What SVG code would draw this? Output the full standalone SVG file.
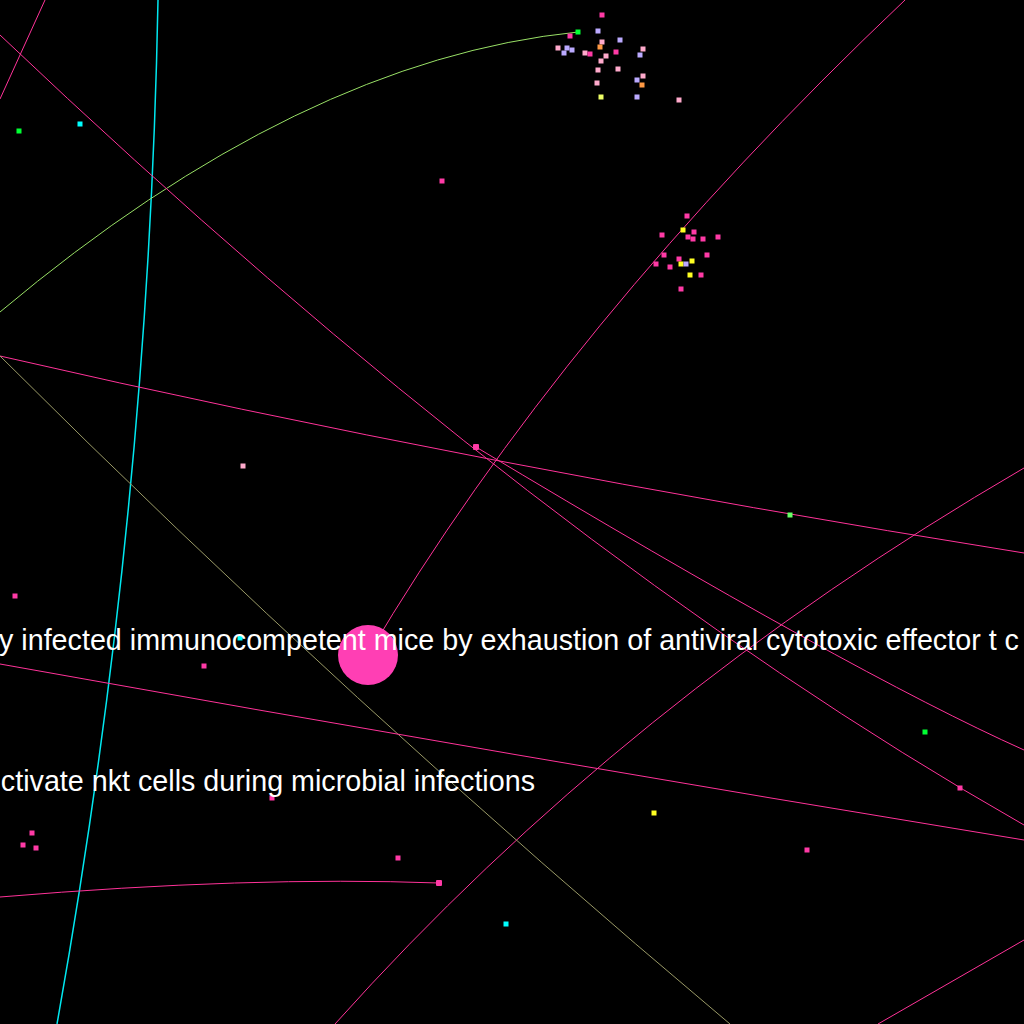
<svg xmlns="http://www.w3.org/2000/svg" width="1024" height="1024" viewBox="0 0 1024 1024">
<style>
.e{fill:none;stroke-width:1}
.pk{stroke:#ff3399}
.cy{stroke:#00e8f0;stroke-width:1.5}
.gr{stroke:#99e066}
.ol{stroke:#999966}
.m rect{fill:#ff3aa6}
.lp rect{fill:#ffaacc}
.lv rect{fill:#bbaaff}
.or rect{fill:#ff9944}
.ye rect{fill:#ffff22}
.yg rect{fill:#eeff66}
.g rect{fill:#00ff33}
.lg rect{fill:#66ff66}
.c rect{fill:#00ffff}
.lbl{font-family:"Liberation Sans",Arial,sans-serif;font-size:28.7px;fill:#ffffff}
</style>
<rect width="1024" height="1024" fill="#000000"/>
<g id="connectors">
<path class="e cy" d="M158,0 Q148.5,512 57,1024"/>
<path class="e gr" d="M0,312 Q300,60 578,32"/>
<path class="e pk" d="M0,35 Q543,551 1024,825"/>
<path class="e pk" d="M476,447 Q852,673 1024,750"/>
<path class="e pk" d="M0,356 Q474,465 1024,553"/>
<path class="e pk" d="M368,655 Q564,323 905,0"/>
<path class="e pk" d="M335,1024 Q625,700 1024,468"/>
<path class="e pk" d="M0,897 Q250,876 439,883"/>
<path class="e pk" d="M878,1024 L1024,940"/>
<path class="e ol" d="M0,356 Q350,705 730,1024"/>
<path class="e pk" d="M45,0 L0,99"/>
<path class="e pk" d="M0,664 Q512,756 1024,840"/>
</g>
<g id="nodes">
<g id="big"><circle cx="368" cy="655" r="30" fill="#ff3fb4"/></g>
<g id="n1" class="m"><rect x="599.5" y="12.5" width="5" height="5"/></g>
<g id="n2" class="g"><rect x="575.5" y="29.5" width="5" height="5"/></g>
<g id="n3" class="m"><rect x="567.5" y="33.5" width="5" height="5"/></g>
<g id="n4" class="lv"><rect x="595.5" y="28.5" width="5" height="5"/></g>
<g id="n5" class="lv"><rect x="617.5" y="37.5" width="5" height="5"/></g>
<g id="n6" class="lp"><rect x="599.5" y="39.5" width="5" height="5"/></g>
<g id="n7" class="lp"><rect x="555.5" y="45.5" width="5" height="5"/></g>
<g id="n8" class="lv"><rect x="564.5" y="45.5" width="5" height="5"/></g>
<g id="n9" class="lv"><rect x="561.5" y="50.5" width="5" height="5"/></g>
<g id="n10" class="lv"><rect x="569.5" y="47.5" width="5" height="5"/></g>
<g id="n11" class="or"><rect x="597.5" y="44.5" width="5" height="5"/></g>
<g id="n12" class="m"><rect x="613.5" y="49.5" width="5" height="5"/></g>
<g id="n13" class="lp"><rect x="640.5" y="46.5" width="5" height="5"/></g>
<g id="n14" class="lp"><rect x="582.5" y="50.5" width="5" height="5"/></g>
<g id="n15" class="m"><rect x="587.5" y="51.5" width="5" height="5"/></g>
<g id="n16" class="lp"><rect x="603.5" y="53.5" width="5" height="5"/></g>
<g id="n17" class="lv"><rect x="637.5" y="52.5" width="5" height="5"/></g>
<g id="n18" class="lp"><rect x="598.5" y="58.5" width="5" height="5"/></g>
<g id="n19" class="lp"><rect x="595.5" y="67.5" width="5" height="5"/></g>
<g id="n20" class="lp"><rect x="615.5" y="66.5" width="5" height="5"/></g>
<g id="n21" class="lp"><rect x="640.5" y="73.5" width="5" height="5"/></g>
<g id="n22" class="lv"><rect x="634.5" y="77.5" width="5" height="5"/></g>
<g id="n23" class="or"><rect x="639.5" y="82.5" width="5" height="5"/></g>
<g id="n24" class="lp"><rect x="594.5" y="80.5" width="5" height="5"/></g>
<g id="n25" class="yg"><rect x="598.5" y="94.5" width="5" height="5"/></g>
<g id="n26" class="lv"><rect x="634.5" y="94.5" width="5" height="5"/></g>
<g id="n27" class="lp"><rect x="676.5" y="97.5" width="5" height="5"/></g>
<g id="n28" class="m"><rect x="684.5" y="213.5" width="5" height="5"/></g>
<g id="n29" class="ye"><rect x="680.5" y="227.5" width="5" height="5"/></g>
<g id="n30" class="m"><rect x="659.5" y="232.5" width="5" height="5"/></g>
<g id="n31" class="m"><rect x="691.5" y="229.5" width="5" height="5"/></g>
<g id="n32" class="m"><rect x="685.5" y="234.5" width="5" height="5"/></g>
<g id="n33" class="m"><rect x="690.5" y="236.5" width="5" height="5"/></g>
<g id="n34" class="m"><rect x="700.5" y="236.5" width="5" height="5"/></g>
<g id="n35" class="m"><rect x="715.5" y="234.5" width="5" height="5"/></g>
<g id="n36" class="m"><rect x="661.5" y="252.5" width="5" height="5"/></g>
<g id="n37" class="m"><rect x="704.5" y="252.5" width="5" height="5"/></g>
<g id="n38" class="m"><rect x="676.5" y="256.5" width="5" height="5"/></g>
<g id="n39" class="m"><rect x="653.5" y="261.5" width="5" height="5"/></g>
<g id="n40" class="m"><rect x="667.5" y="264.5" width="5" height="5"/></g>
<g id="n41" class="ye"><rect x="678.5" y="261.5" width="5" height="5"/></g>
<g id="n42" class="lv"><rect x="683.5" y="261.5" width="5" height="5"/></g>
<g id="n43" class="ye"><rect x="689.5" y="258.5" width="5" height="5"/></g>
<g id="n44" class="ye"><rect x="687.5" y="272.5" width="5" height="5"/></g>
<g id="n45" class="m"><rect x="698.5" y="272.5" width="5" height="5"/></g>
<g id="n46" class="m"><rect x="678.5" y="286.5" width="5" height="5"/></g>
<g id="n47" class="g"><rect x="16.5" y="128.5" width="5" height="5"/></g>
<g id="n48" class="c"><rect x="77.5" y="121.5" width="5" height="5"/></g>
<g id="n49" class="m"><rect x="439.5" y="178.5" width="5" height="5"/></g>
<g id="n50" class="m"><rect x="473" y="444" width="6" height="6" rx="1"/></g>
<g id="n51" class="lp"><rect x="240.5" y="463.5" width="5" height="5"/></g>
<g id="n52" class="lg"><rect x="787.5" y="512.5" width="5" height="5"/></g>
<g id="n53" class="m"><rect x="12.5" y="593.5" width="5" height="5"/></g>
<g id="n54" class="m"><rect x="201.5" y="663.5" width="5" height="5"/></g>
<g id="n55" class="c"><rect x="237.5" y="635.5" width="5" height="5"/></g>
<g id="n56" class="g"><rect x="922.5" y="729.5" width="5" height="5"/></g>
<g id="n57" class="m"><rect x="957.5" y="785.5" width="5" height="5"/></g>
<g id="n58" class="m"><rect x="269.5" y="795.5" width="5" height="5"/></g>
<g id="n59" class="ye"><rect x="651.5" y="810.5" width="5" height="5"/></g>
<g id="n60" class="m"><rect x="804.5" y="847.5" width="5" height="5"/></g>
<g id="n61" class="m"><rect x="29.5" y="830.5" width="5" height="5"/></g>
<g id="n62" class="m"><rect x="20.5" y="842.5" width="5" height="5"/></g>
<g id="n63" class="m"><rect x="33.5" y="845.5" width="5" height="5"/></g>
<g id="n64" class="m"><rect x="395.5" y="855.5" width="5" height="5"/></g>
<g id="n65" class="m"><rect x="436" y="880" width="6" height="6" rx="1"/></g>
<g id="n66" class="c"><rect x="503.5" y="921.5" width="5" height="5"/></g>
</g>
<g id="labels">
<text class="lbl" x="-1" y="650">y infected immunocompetent mice by exhaustion of antiviral cytotoxic effector t c</text>
<text class="lbl" x="535" y="791" text-anchor="end">ctivate nkt cells during microbial infections</text>
</g>
</svg>
